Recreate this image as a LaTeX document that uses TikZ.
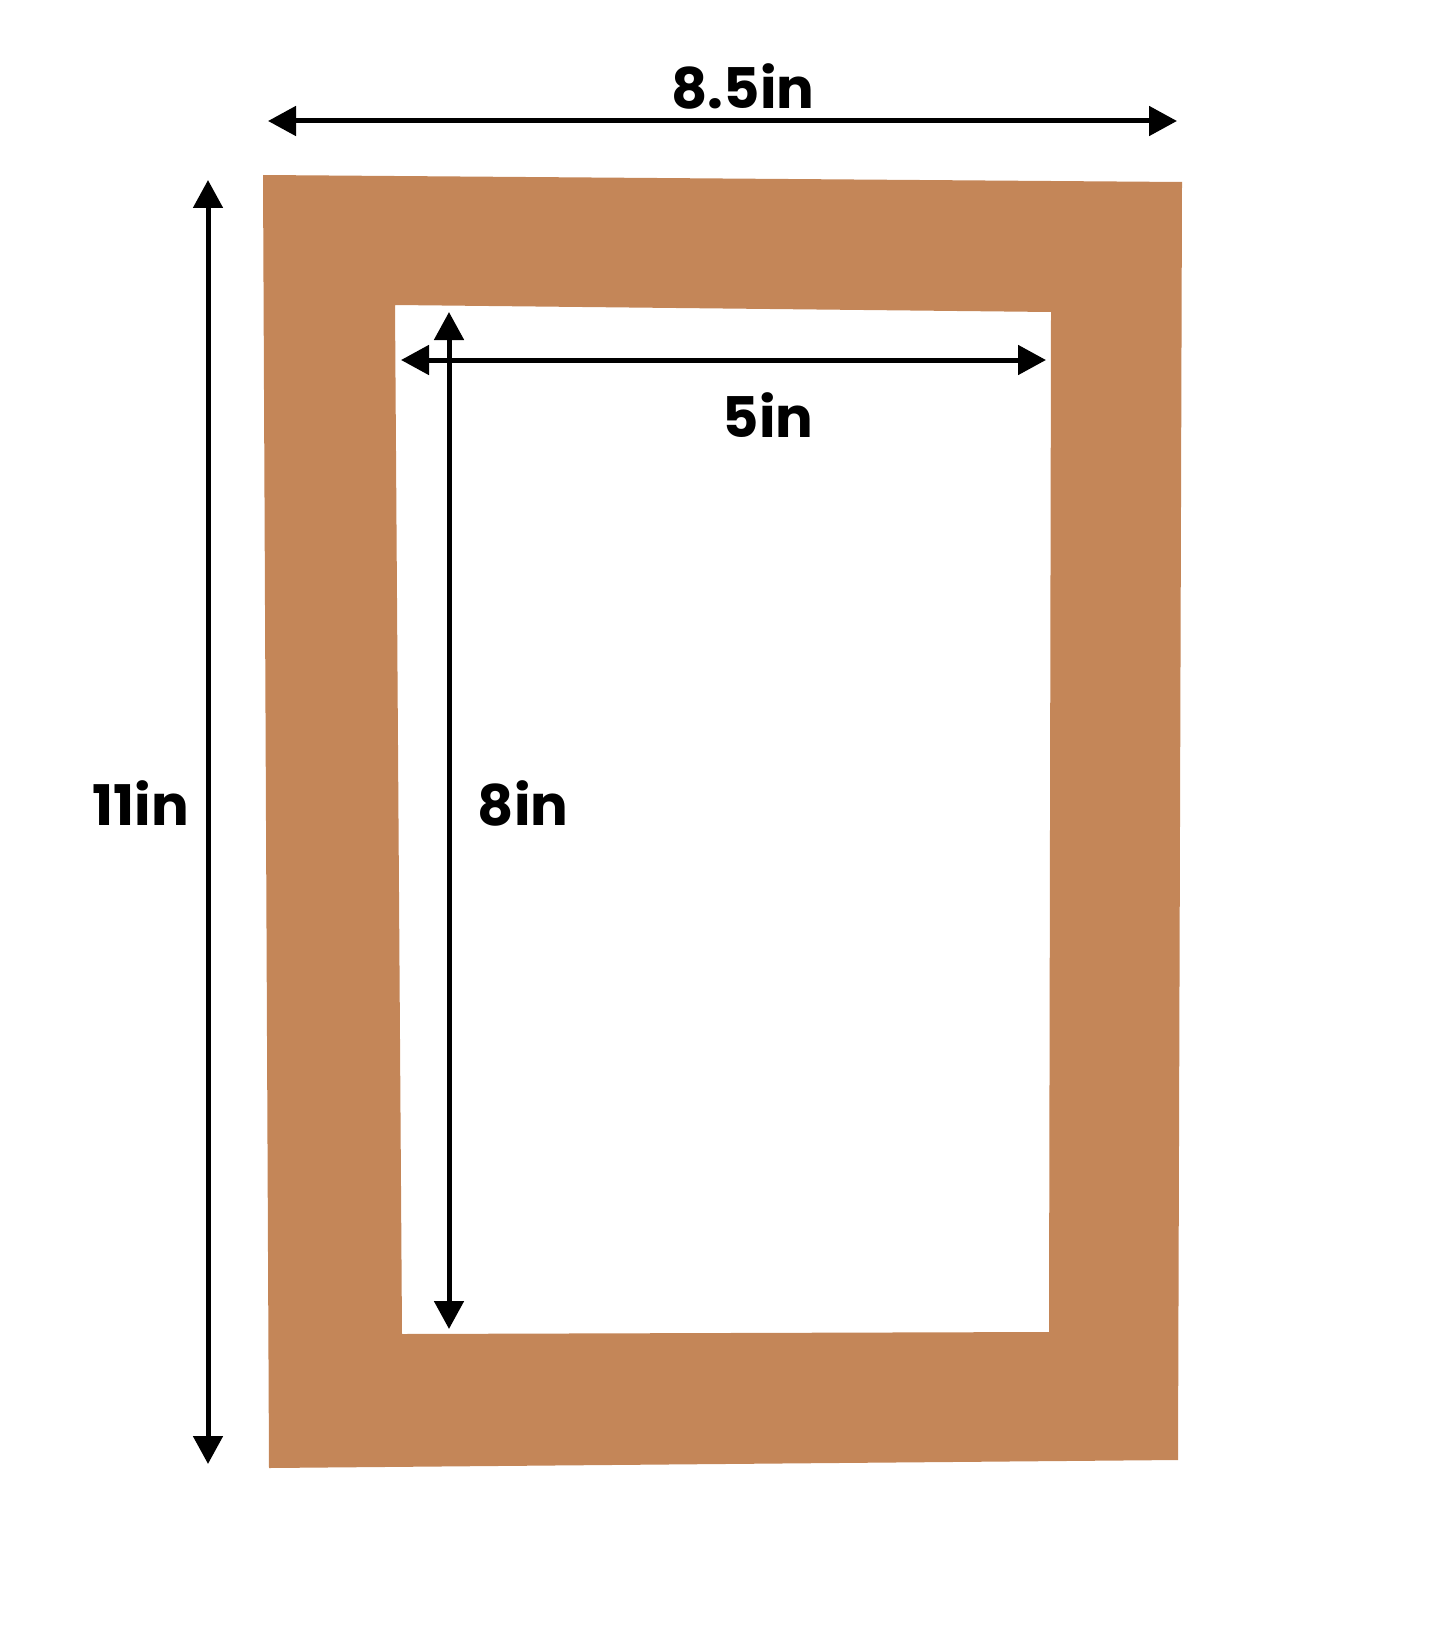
\documentclass[tikz,border=0pt]{standalone}
\usepackage{fontspec}
\setmainfont{Poppins}[UprightFont=* Bold]
\usetikzlibrary{arrows.meta}
\definecolor{mat}{RGB}{196,134,88}
\tikzset{
  dim/.style={line width=5pt, {Triangle[length=28pt,width=29pt]}-{Triangle[length=28pt,width=29pt]}},
  lbl/.style={font=\fontsize{56}{60}\selectfont, text=black, inner sep=0pt}
}
\begin{document}
\begin{tikzpicture}[x=1pt,y=-1pt]
\useasboundingbox (0,0) rectangle (1445,1645);
% mat frame with window
\fill[mat, even odd rule]
  (263,175) -- (1182,182) -- (1178,1460) -- (269,1468) -- cycle
  (395,305) -- (1051,312) -- (1049,1332) -- (402,1334) -- cycle;
% coordinates for dimension arrows
\coordinate (wL) at (268,121);
\coordinate (wR) at (1177,121);
\coordinate (hT) at (208,180);
\coordinate (hB) at (208,1464);
\coordinate (iwL) at (401,360);
\coordinate (iwR) at (1046,360);
\coordinate (ihT) at (449,312);
\coordinate (ihB) at (449,1329);
\draw[dim] (wL) -- (wR);
\draw[dim] (hT) -- (hB);
\draw[dim] (iwL) -- (iwR);
\draw[dim] (ihT) -- (ihB);
\node[lbl] (w) at (743,86) {8.5in};
\node[lbl] (h) at (141,803) {11in};
\node[lbl] (iw) at (768,415) {5in};
\node[lbl] (ih) at (523,803) {8in};
\end{tikzpicture}
\end{document}
